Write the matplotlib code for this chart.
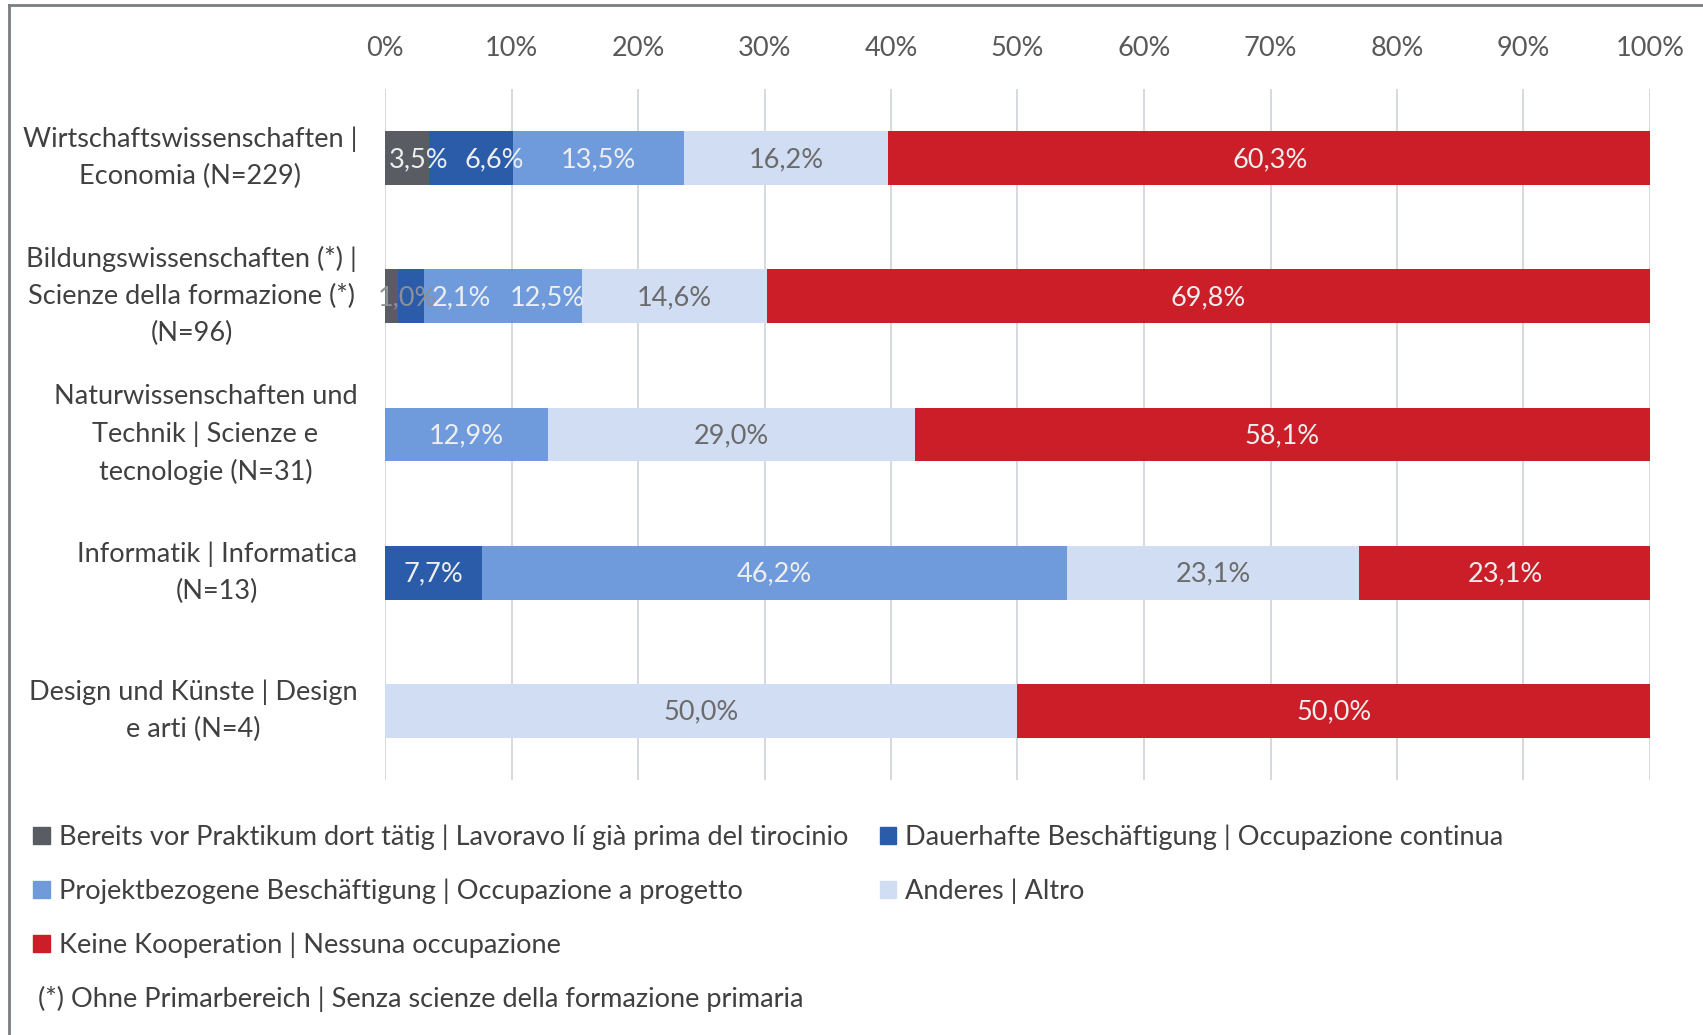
import matplotlib.pyplot as plt
import matplotlib.patches as mpatches
from matplotlib.lines import Line2D
import numpy as np

plt.rcParams['font.family'] = ['Lato', 'DejaVu Sans']

categories = [
    'Wirtschaftswissenschaften |\nEconomia (N=229)',
    'Bildungswissenschaften (*) |\nScienze della formazione (*)\n(N=96)',
    'Naturwissenschaften und\nTechnik | Scienze e\ntecnologie (N=31)',
    'Informatik | Informatica\n(N=13)',
    'Design und Künste | Design\ne arti (N=4)',
]
series_names = [
    'Bereits vor Praktikum dort tätig | Lavoravo lí già prima del tirocinio',
    'Dauerhafte Beschäftigung | Occupazione continua',
    'Projektbezogene Beschäftigung | Occupazione a progetto',
    'Anderes | Altro',
    'Keine Kooperation | Nessuna occupazione',
]
bereits = [3.5, 1.0, 0.0, 0.0, 0.0]
dauerhaft = [6.6, 2.1, 0.0, 7.7, 0.0]
projekt = [13.5, 12.5, 12.9, 46.2, 0.0]
anderes = [16.2, 14.6, 29.0, 23.1, 50.0]
keine = [60.3, 69.8, 58.1, 23.1, 50.0]
x_ticks = [0, 10, 20, 30, 40, 50, 60, 70, 80, 90, 100]
note = '(*) Ohne Primarbereich | Senza scienze della formazione primaria'

colors = ['#595c62', '#2b5ca9', '#6f9bdd', '#d0ddf2', '#cc1e29']
label_colors = ['#eeeeee', '#eeeeee', '#eeeeee', '#6b6b6b', '#eeeeee']
fs = 19.5

# small labels in narrow segments are pushed right so they stay readable
label_shift = {(0, 0): 0.9, (0, 1): 1.8, (1, 0): 1.3, (1, 1): 4.0, (1, 2): 3.5}

fig = plt.figure(figsize=(17.03, 10.35), dpi=100)
ax = fig.add_axes([385 / 1703, 1 - 780 / 1035, 1265 / 1703, 691 / 1035])

y = np.arange(len(categories))
left = np.zeros(len(categories))
handles = []
series = [bereits, dauerhaft, projekt, anderes, keine]
for si, (values, name, col, lcol) in enumerate(zip(series, series_names,
                                                   colors, label_colors)):
    values = np.array(values)
    ax.barh(y, values, left=left, height=0.39, color=col, zorder=2)
    for yi, (l, v) in enumerate(zip(left, values)):
        if v > 0:
            txt = f'{v:.1f}'.replace('.', ',') + '%'
            c = lcol
            z = 3 + si
            if v < 1.5:
                c, z = '#8d9096', 2.5
            ax.text(l + v / 2 + label_shift.get((yi, si), 0), yi + 0.01, txt,
                    ha='center', va='center', fontsize=fs, color=c, zorder=z)
    left += values
    handles.append(mpatches.Patch(color=col, label=name))

ax.set_xlim(0, 100)
ax.set_ylim(len(categories) - 0.5, -0.5)
ax.set_xticks(x_ticks)
ax.set_xticklabels([f'{t}%' for t in x_ticks])
ax.xaxis.tick_top()
ax.set_yticks(y)
ax.set_yticklabels(categories)
for lbl in ax.get_yticklabels():
    lbl.set_multialignment('center')
    lbl.set_linespacing(1.6)
    lbl.set_verticalalignment('center')
ax.tick_params(axis='x', length=0, pad=20, labelsize=fs, labelcolor='#595959')
ax.tick_params(axis='y', length=0, pad=20, labelsize=fs, labelcolor='#404040')
ax.grid(axis='x', color='#d2d5da', linewidth=1.3, zorder=0)
for s in ax.spines.values():
    s.set_visible(False)

# Legend in row order: two items per row
order = [0, 2, 4, 1, 3]
fig.legend([handles[i] for i in order], [series_names[i] for i in order],
           ncol=2, loc='upper left', bbox_to_anchor=(9 / 1703, 1 - 800 / 1035),
           frameon=False, fontsize=fs, handlelength=0.6, handleheight=0.6,
           handletextpad=0.35, columnspacing=1.15, labelspacing=1.05,
           labelcolor='#404040')
fig.text(38 / 1703, 1 - 999 / 1035, note, fontsize=fs, color='#404040',
         va='center', ha='left')

# Outer frame (left and top edges)
fig.add_artist(Line2D([9 / 1703, 9 / 1703], [0, 1 - 5 / 1035],
                      transform=fig.transFigure, color='#7a7d82', linewidth=2))
fig.add_artist(Line2D([9 / 1703, 1], [1 - 5 / 1035, 1 - 5 / 1035],
                      transform=fig.transFigure, color='#7a7d82', linewidth=2))

fig.savefig('out.png', dpi=100)
